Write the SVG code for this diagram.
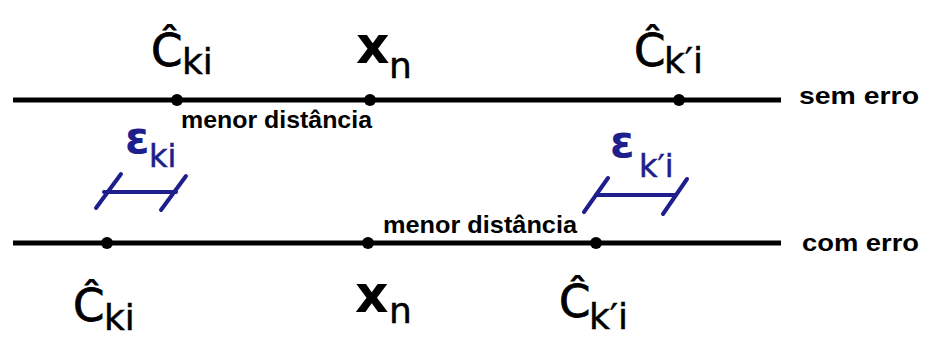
<svg xmlns="http://www.w3.org/2000/svg" width="930" height="337" viewBox="0 0 930 337">
<style>
.axis{stroke:#000;stroke-width:5;fill:none}
.dot{fill:#000}
.big{font-family:"DejaVu Sans",sans-serif;font-size:45px;fill:#000;stroke:#000;stroke-width:0.8}
.xx{font-family:"DejaVu Sans",sans-serif;font-size:52px;font-weight:bold;fill:#000}
.sub{font-family:"DejaVu Sans",sans-serif;font-size:36px;fill:#000;stroke:#000;stroke-width:0.5}
.lbl{font-family:"Liberation Sans",Arial,sans-serif;font-weight:bold;font-size:24px;fill:#000}
.eps{font-family:"DejaVu Sans",sans-serif;font-size:44px;font-weight:bold;fill:#1e1e8c}
.epsub{font-family:"DejaVu Sans",sans-serif;font-size:32px;fill:#1e1e8c;stroke:#1e1e8c;stroke-width:0.5}
.br{stroke:#1e1e8c;stroke-width:4;fill:none;stroke-linecap:round}
</style>
<rect width="930" height="337" fill="#fff"/>
<g id="connectors">
<line class="axis" x1="13" y1="100" x2="781" y2="100"/>
<line class="axis" x1="13" y1="243" x2="781" y2="243"/>
</g>
<g id="top-c-ki">
<circle class="dot" cx="177" cy="100" r="6"/>
<text class="big" x="151" y="66">Ĉ</text>
<text class="sub" x="182" y="74">ki</text>
</g>
<g id="top-xn">
<circle class="dot" cx="370" cy="100" r="6"/>
<text class="xx" x="356" y="63">x</text>
<text class="sub" x="389" y="78">n</text>
</g>
<g id="top-c-kpi">
<circle class="dot" cx="679" cy="100" r="6"/>
<text class="big" x="634" y="66">Ĉ</text>
<text class="sub" x="664" y="73">k′i</text>
</g>
<g id="top-label">
<text class="lbl" x="181" y="128" textLength="191" lengthAdjust="spacingAndGlyphs">menor distância</text>
<text class="lbl" x="799" y="104" textLength="120" lengthAdjust="spacingAndGlyphs">sem erro</text>
</g>
<g id="bot-c-ki">
<circle class="dot" cx="107" cy="243" r="6"/>
<text class="big" x="73" y="321">Ĉ</text>
<text class="sub" x="104" y="330">ki</text>
</g>
<g id="bot-xn">
<circle class="dot" cx="368" cy="243" r="6"/>
<text class="xx" x="355" y="312">x</text>
<text class="sub" x="389" y="323">n</text>
</g>
<g id="bot-c-kpi">
<circle class="dot" cx="596" cy="243" r="6"/>
<text class="big" x="559" y="317">Ĉ</text>
<text class="sub" x="589" y="329">k′i</text>
</g>
<g id="bot-label">
<text class="lbl" x="383" y="233" textLength="194" lengthAdjust="spacingAndGlyphs">menor distância</text>
<text class="lbl" x="802" y="251" textLength="117" lengthAdjust="spacingAndGlyphs">com erro</text>
</g>
<g id="eps-ki">
<text class="eps" x="125" y="153">ε</text>
<text class="epsub" x="149" y="167">ki</text>
<line class="br" x1="104" y1="192" x2="176" y2="192"/>
<line class="br" x1="96" y1="208" x2="121" y2="174"/>
<line class="br" x1="161" y1="210" x2="186" y2="176"/>
</g>
<g id="eps-kpi">
<text class="eps" x="610" y="157">ε</text>
<text class="epsub" x="639" y="177">k′i</text>
<line class="br" x1="596" y1="195" x2="675" y2="195"/>
<line class="br" x1="584" y1="212" x2="608" y2="178"/>
<line class="br" x1="663" y1="214" x2="687" y2="179"/>
</g>
</svg>
